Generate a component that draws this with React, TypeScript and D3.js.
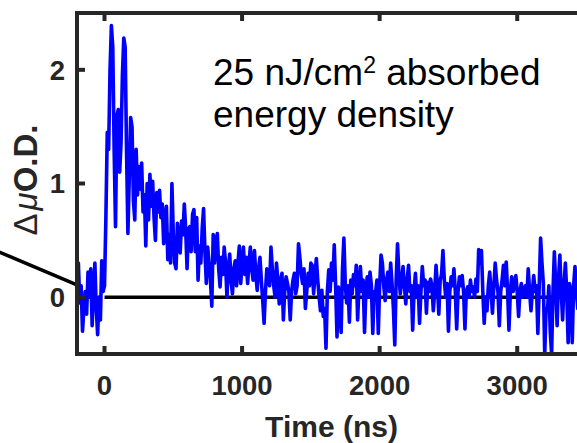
import * as d3 from "d3";
import React from "react";

// sampling of the transient trace (ns)
const tStart = -200;
const tStep = 10;

// ΔμO.D. values, one every 10 ns from -200 ns
const signal = [
  0.05, 0.30, -0.05, 0.10, -0.30, -0.10, 0.05, -0.15, 0.22, 0.00,
  0.25, -0.25, 0.05, 0.30, -0.10, -0.33, 0.00, -0.20, 0.32, 0.05,
  0.10, 0.70, 1.45, 1.30, 2.00, 2.39, 2.20, 1.30, 0.62, 1.60,
  1.65, 1.10, 1.35, 1.95, 2.28, 2.20, 1.30, 0.56, 1.05, 1.58,
  1.50, 0.85, 0.68, 1.30, 0.90, 1.15, 0.95, 1.18, 0.75, 0.90,
  0.45, 1.00, 0.68, 1.08, 0.80, 1.02, 0.70, 0.50, 0.92, 0.75,
  0.94, 0.70, 0.82, 0.47, 0.70, 0.80, 0.33, 0.55, 0.30, 1.00,
  0.56, 0.30, 0.25, 0.65, 0.50, 0.39, 0.67, 0.55, 0.82, 0.60,
  0.25, 0.60, 0.62, 0.40, 0.73, 0.77, 0.40, 0.70, 0.15, 0.45,
  0.30, 0.60, 0.78, 0.40, 0.12, 0.44, 0.30, 0.15, -0.08, 0.55,
  0.30, 0.50, 0.56, 0.25, 0.09, 0.35, 0.20, 0.44, 0.30, 0.00,
  0.25, 0.38, 0.15, 0.03, 0.25, 0.32, 0.10, 0.30, 0.45, 0.12,
  0.30, 0.44, 0.20, 0.35, 0.12, 0.30, 0.44, 0.25, 0.15, 0.41,
  0.20, 0.06, 0.25, 0.35, 0.15, -0.03, -0.23, 0.05, 0.25, 0.18,
  0.10, 0.44, 0.25, 0.10, 0.00, 0.30, 0.15, -0.06, 0.15, 0.21,
  -0.20, 0.05, 0.18, 0.12, 0.05, -0.20, 0.05, 0.15, 0.21, 0.03,
  0.10, 0.47, 0.35, 0.20, 0.12, 0.25, -0.10, 0.05, 0.21, 0.10,
  0.30, 0.28, 0.03, 0.20, 0.34, 0.15, 0.00, -0.12, 0.06, -0.17,
  -0.10, -0.45, 0.05, 0.24, 0.05, 0.30, 0.15, 0.46, 0.10, -0.35,
  0.09, -0.05, -0.31, 0.25, 0.52, 0.12, -0.05, 0.10, -0.22, 0.15,
  0.03, 0.20, 0.10, 0.28, -0.20, 0.10, 0.27, 0.05, 0.15, -0.31,
  0.05, 0.18, 0.00, 0.22, 0.10, -0.32, 0.05, 0.03, 0.15, -0.32,
  0.10, 0.37, 0.30, 0.10, -0.03, 0.15, 0.22, 0.05, 0.30, 0.12,
  -0.10, -0.42, 0.15, 0.47, 0.20, 0.03, 0.15, 0.27, 0.10, -0.06,
  0.15, 0.28, 0.05, 0.10, -0.29, 0.05, 0.21, 0.00, 0.10, -0.23,
  0.05, 0.27, 0.10, 0.15, -0.14, 0.13, 0.05, 0.16, 0.10, -0.12,
  0.05, 0.28, 0.10, -0.15, 0.15, 0.20, 0.41, 0.15, 0.00, 0.12,
  -0.30, 0.05, 0.18, 0.10, 0.25, 0.05, -0.28, 0.05, 0.18, 0.10,
  0.19, 0.05, -0.28, 0.05, 0.09, 0.00, 0.15, 0.05, 0.09, 0.00,
  0.16, 0.05, 0.42, 0.30, 0.41, 0.05, -0.23, 0.00, -0.12, 0.10,
  0.22, 0.05, -0.14, 0.10, 0.30, 0.15, 0.05, -0.25, 0.05, 0.15,
  0.28, 0.10, 0.31, 0.05, -0.29, 0.05, 0.18, 0.05, 0.10, 0.19,
  0.05, -0.17, 0.05, 0.12, 0.00, 0.06, 0.10, 0.00, 0.25, 0.05,
  -0.12, 0.05, 0.19, 0.05, 0.10, -0.32, 0.10, 0.52, 0.30, 0.12,
  -0.50, -0.10, -0.12, 0.10, -0.30, -0.50, 0.05, 0.40, 0.10, -0.25,
  0.15, 0.37, 0.05, -0.20, 0.10, 0.30, 0.05, -0.40, 0.12, 0.05,
  -0.40, 0.10, 0.27, 0.05, -0.10, 0.15, 0.05, 0.20, 0.00, 0.10,
];

// black guide lines
const zeroLineT = [0, 3500];
const fitLineT = [-770, -205];
const fitLineV = [0.4, 0.11];

const xTicks = [0, 1000, 2000, 3000];
const yTicks = [0, 1, 2];

export default function App() {
  const width = 577;
  const height = 443;
  const left = 77;
  const right = 586;
  const top = 13;
  const bottom = 354;
  const axisColor = "#262626";
  const font = "Arial, 'Liberation Sans', Helvetica, sans-serif";

  const x = d3.scaleLinear().domain([-200, 3500]).range([left, right]);
  const y = d3.scaleLinear().domain([-0.5, 2.5]).range([bottom, top]);

  const points: [number, number][] = signal.map((v, i) => [tStart + i * tStep, v]);
  const line = d3
    .line<[number, number]>()
    .x((d) => x(d[0]))
    .y((d) => y(d[1]));

  const zeroPts: [number, number][] = zeroLineT.map((t) => [t, 0]);
  const fitPts: [number, number][] = fitLineT.map((t, i) => [t, fitLineV[i]]);

  return (
    <svg
      width={width}
      height={height}
      style={{ position: "absolute", left: 0, top: 0, background: "#fff" }}
    >
      <defs>
        <clipPath id="plot">
          <rect x={left} y={top} width={right - left} height={bottom - top} />
        </clipPath>
      </defs>

      <path d={line(fitPts) || ""} fill="none" stroke="#000" strokeWidth={3.5} />

      <g clipPath="url(#plot)">
        <path d={line(zeroPts) || ""} fill="none" stroke="#000" strokeWidth={3.5} />
        <path
          d={line(points) || ""}
          fill="none"
          stroke="#0000ff"
          strokeWidth={3.6}
          strokeLinejoin="round"
        />
      </g>

      {/* axes box */}
      <g stroke={axisColor} strokeWidth={4} fill="none">
        <path d={`M${left},${top}H${right}V${bottom}H${left}Z`} />
        {xTicks.map((t) => (
          <g key={t}>
            <line x1={x(t)} x2={x(t)} y1={bottom} y2={bottom - 8} />
            <line x1={x(t)} x2={x(t)} y1={top} y2={top + 8} />
          </g>
        ))}
        {yTicks.map((v) => (
          <line key={v} x1={left} x2={left + 8} y1={y(v)} y2={y(v)} />
        ))}
      </g>

      <g fill={axisColor} fontFamily={font} fontWeight="bold" fontSize={27.5}>
        {xTicks.map((t) => (
          <text key={t} x={x(t)} y={395} textAnchor="middle">
            {t}
          </text>
        ))}
        {yTicks.map((v) => (
          <text key={v} x={65} y={y(v)} dy="0.36em" textAnchor="end">
            {v}
          </text>
        ))}
      </g>

      <text
        x={(left + right) / 2}
        y={437}
        textAnchor="middle"
        fontFamily={font}
        fontWeight="bold"
        fontSize={30}
        fill={axisColor}
      >
        Time (ns)
      </text>

      <text
        transform="translate(37,180) rotate(-90)"
        textAnchor="middle"
        fontFamily={font}
        fontSize={33}
        fill={axisColor}
      >
        <tspan>Δ</tspan>
        <tspan fontStyle="italic" dx={3}>μ</tspan>
        <tspan fontWeight="bold">O.D.</tspan>
      </text>

      <g fontFamily={font} fontSize={37} fill="#000">
        <text x={213} y={85}>
          25 nJ/cm
          <tspan fontSize={23} dy={-12}>2</tspan>
          <tspan dy={12}> absorbed</tspan>
        </text>
        <text x={213} y={127}>
          energy density
        </text>
      </g>
    </svg>
  );
}
